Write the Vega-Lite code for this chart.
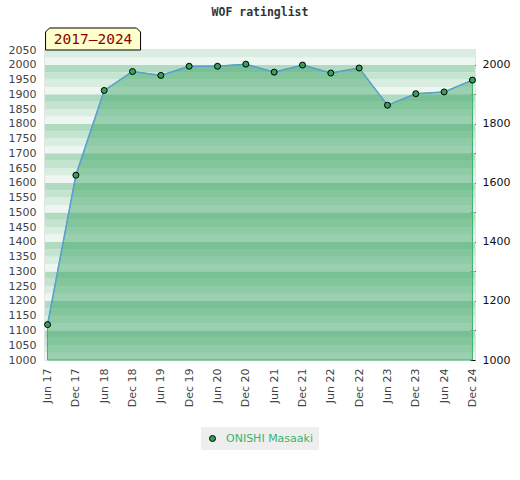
{
  "$schema": "https://vega.github.io/schema/vega-lite/v6.json",
  "autosize": {"type": "none"},
  "width": 430,
  "height": 310,
  "padding": {"left": 45, "top": 50, "right": 45, "bottom": 120},
  "title": {"text": "WOF ratinglist", "font": "DejaVu Sans Mono", "fontSize": 11.5, "fontWeight": "bold", "color": "#333333", "offset": 7, "anchor": "middle"},
  "config": {
    "view": {"stroke": "#dddddd", "strokeWidth": 1.5},
    "font": "DejaVu Sans"
  },
  "datasets": {
    "ratings": [
      {"period": "Jun 17", "rating": 1120, "player": "ONISHI Masaaki"},
      {"period": "Dec 17", "rating": 1626, "player": "ONISHI Masaaki"},
      {"period": "Jun 18", "rating": 1913, "player": "ONISHI Masaaki"},
      {"period": "Dec 18", "rating": 1977, "player": "ONISHI Masaaki"},
      {"period": "Jun 19", "rating": 1964, "player": "ONISHI Masaaki"},
      {"period": "Dec 19", "rating": 1995, "player": "ONISHI Masaaki"},
      {"period": "Jun 20", "rating": 1995, "player": "ONISHI Masaaki"},
      {"period": "Dec 20", "rating": 2002, "player": "ONISHI Masaaki"},
      {"period": "Jun 21", "rating": 1975, "player": "ONISHI Masaaki"},
      {"period": "Dec 21", "rating": 1999, "player": "ONISHI Masaaki"},
      {"period": "Jun 22", "rating": 1972, "player": "ONISHI Masaaki"},
      {"period": "Dec 22", "rating": 1989, "player": "ONISHI Masaaki"},
      {"period": "Jun 23", "rating": 1863, "player": "ONISHI Masaaki"},
      {"period": "Dec 23", "rating": 1902, "player": "ONISHI Masaaki"},
      {"period": "Jun 24", "rating": 1908, "player": "ONISHI Masaaki"},
      {"period": "Dec 24", "rating": 1948, "player": "ONISHI Masaaki"}
    ],
    "bands": [
      {"lo": 1000, "hi": 1025, "k": 4}, {"lo": 1025, "hi": 1050, "k": 3}, {"lo": 1050, "hi": 1075, "k": 2}, {"lo": 1075, "hi": 1100, "k": 1},
      {"lo": 1100, "hi": 1125, "k": 4}, {"lo": 1125, "hi": 1150, "k": 3}, {"lo": 1150, "hi": 1175, "k": 2}, {"lo": 1175, "hi": 1200, "k": 1},
      {"lo": 1200, "hi": 1225, "k": 4}, {"lo": 1225, "hi": 1250, "k": 3}, {"lo": 1250, "hi": 1275, "k": 2}, {"lo": 1275, "hi": 1300, "k": 1},
      {"lo": 1300, "hi": 1325, "k": 4}, {"lo": 1325, "hi": 1350, "k": 3}, {"lo": 1350, "hi": 1375, "k": 2}, {"lo": 1375, "hi": 1400, "k": 1},
      {"lo": 1400, "hi": 1425, "k": 4}, {"lo": 1425, "hi": 1450, "k": 3}, {"lo": 1450, "hi": 1475, "k": 2}, {"lo": 1475, "hi": 1500, "k": 1},
      {"lo": 1500, "hi": 1525, "k": 4}, {"lo": 1525, "hi": 1550, "k": 3}, {"lo": 1550, "hi": 1575, "k": 2}, {"lo": 1575, "hi": 1600, "k": 1},
      {"lo": 1600, "hi": 1625, "k": 4}, {"lo": 1625, "hi": 1650, "k": 3}, {"lo": 1650, "hi": 1675, "k": 2}, {"lo": 1675, "hi": 1700, "k": 1},
      {"lo": 1700, "hi": 1725, "k": 4}, {"lo": 1725, "hi": 1750, "k": 3}, {"lo": 1750, "hi": 1775, "k": 2}, {"lo": 1775, "hi": 1800, "k": 1},
      {"lo": 1800, "hi": 1825, "k": 4}, {"lo": 1825, "hi": 1850, "k": 3}, {"lo": 1850, "hi": 1875, "k": 2}, {"lo": 1875, "hi": 1900, "k": 1},
      {"lo": 1900, "hi": 1925, "k": 4}, {"lo": 1925, "hi": 1950, "k": 3}, {"lo": 1950, "hi": 1975, "k": 2}, {"lo": 1975, "hi": 2000, "k": 1},
      {"lo": 2000, "hi": 2025, "k": 4}, {"lo": 2025, "hi": 2050, "k": 3}
    ],
    "badge": [{"label": "2017–2024"}]
  },
  "resolve": {"scale": {"y": "independent", "color": "independent"}},
  "layer": [
    {
      "data": {"name": "bands"},
      "mark": {"type": "rect"},
      "encoding": {
        "y": {"field": "lo", "type": "quantitative", "scale": {"domain": [1000, 2050], "nice": false, "zero": false},
          "axis": {"orient": "left", "values": [1000,1050,1100,1150,1200,1250,1300,1350,1400,1450,1500,1550,1600,1650,1700,1750,1800,1850,1900,1950,2000,2050],
            "format": "d", "title": null, "ticks": false, "domain": false, "grid": false, "labelPadding": 9, "labelColor": "#444444", "labelFontSize": 11}},
        "y2": {"field": "hi"},
        "color": {"field": "k", "type": "ordinal", "scale": {"domain": [1, 2, 3, 4], "range": ["#b1dbc0", "#c5e4cf", "#d9ede1", "#eef6f1"]}, "legend": null}
      }
    },
    {
      "data": {"name": "ratings"},
      "mark": {"type": "area", "fill": "#30a05c", "fillOpacity": 0.44, "stroke": "#3cb36b", "strokeWidth": 1},
      "encoding": {
        "x": {"field": "period", "type": "ordinal", "sort": null, "scale": {"type": "point", "padding": 0.09},
          "axis": {"title": null, "labelAngle": 270, "ticks": false, "domain": false, "labelPadding": 8, "labelColor": "#444444", "labelFontSize": 11}},
        "y": {"field": "rating", "type": "quantitative", "scale": {"domain": [1000, 2050], "nice": false, "zero": false}, "axis": null},
        "y2": {"datum": 1000}
      }
    },
    {
      "data": {"name": "ratings"},
      "mark": {"type": "line", "color": "#5b9fd8", "strokeWidth": 1.5},
      "encoding": {
        "x": {"field": "period", "type": "ordinal", "sort": null},
        "y": {"field": "rating", "type": "quantitative", "scale": {"domain": [1000, 2050], "nice": false, "zero": false},
          "axis": {"orient": "right", "offset": -5, "values": [1000,1100,1200,1300,1400,1500,1600,1700,1800,1900,2000],
            "labelExpr": "datum.value % 200 == 0 ? datum.label : ''", "format": "d",
            "title": null, "domain": false, "grid": false, "tickSize": 5, "tickColor": "#000000", "labelPadding": 7, "labelColor": "#111111", "labelFontSize": 11}}
      }
    },
    {
      "data": {"name": "ratings"},
      "mark": {"type": "point", "filled": true, "shape": "circle", "size": 36, "stroke": "#000000", "strokeWidth": 1, "opacity": 1},
      "encoding": {
        "x": {"field": "period", "type": "ordinal", "sort": null},
        "y": {"field": "rating", "type": "quantitative", "scale": {"domain": [1000, 2050], "nice": false, "zero": false}, "axis": null},
        "color": {"field": "player", "type": "nominal", "scale": {"range": ["#35a05a"]},
          "legend": {"orient": "none", "legendX": 156, "legendY": 377, "title": null, "fillColor": "#eeeeee", "padding": 6,
            "labelColor": "#3cb36b", "labelFontSize": 11, "symbolSize": 36, "symbolStrokeColor": "#000000", "symbolStrokeWidth": 1, "labelOffset": 8}}
      }
    },
    {
      "data": {"name": "badge"},
      "mark": {"type": "point", "filled": true, "fill": "#ffffcc", "stroke": "#000000", "strokeWidth": 1, "opacity": 1, "size": 9025,
        "shape": "M-1,0.2316 L-1,-0.147 L-0.916,-0.2316 L0.916,-0.2316 L1,-0.147 L1,0.2316 Z",
        "xOffset": 45.5, "yOffset": -11, "clip": false},
      "encoding": {
        "x": {"datum": "Jun 17", "type": "ordinal"},
        "y": {"datum": 2050, "type": "quantitative", "scale": {"domain": [1000, 2050], "nice": false, "zero": false}, "axis": null}
      }
    },
    {
      "data": {"name": "badge"},
      "mark": {"type": "text", "font": "DejaVu Sans Mono", "fontSize": 14.5, "color": "#8b0000", "align": "center", "baseline": "middle",
        "xOffset": 45.5, "yOffset": -10},
      "encoding": {
        "x": {"datum": "Jun 17", "type": "ordinal"},
        "y": {"datum": 2050, "type": "quantitative", "scale": {"domain": [1000, 2050], "nice": false, "zero": false}, "axis": null},
        "text": {"field": "label"}
      }
    }
  ]
}
